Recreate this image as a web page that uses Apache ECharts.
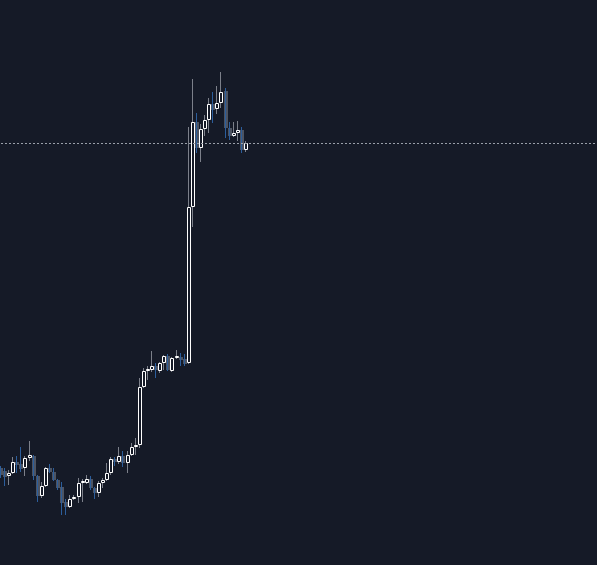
<!DOCTYPE html>
<html>
<head>
<meta charset="utf-8">
<script src="https://cdn.jsdelivr.net/npm/echarts@6/dist/echarts.min.js"></script>
<style>
  html, body { margin: 0; padding: 0; background: #151a27; }
  #chart { width: 597px; height: 565px; }
</style>
</head>
<body>
<div id="chart"></div>
<script>
// prices (arbitrary units, no axis shown)
const openValues = [
  13.2, 12.9, 12.4, 12.7, 13.8, 13.6, 13.2, 14.2, 14.4, 12.4,
  10.4, 11.4, 13.2, 12.8, 12.0, 11.3, 9.8, 9.3, 10.1, 10.3,
  11.7, 11.7, 12.1, 11.2, 10.7, 11.7, 12.0, 12.7, 14.1, 13.8,
  14.4, 13.7, 14.5, 15.3, 15.5, 21.3, 22.9, 23.0, 23.4, 22.9,
  23.7, 24.4, 22.9, 24.2, 24.3, 24.1, 23.7, 39.3, 47.8, 45.2,
  47.1, 48.0, 49.6, 49.1, 49.7, 50.9, 47.2, 46.4, 46.7, 47.0,
  45.0
];
const closeValues = [
  12.5, 12.3, 12.7, 13.8, 13.5, 13.1, 14.2, 14.5, 12.4, 10.4,
  11.4, 13.2, 12.8, 12.0, 11.2, 9.7, 9.3, 10.1, 10.3, 11.7,
  11.9, 12.1, 11.2, 10.7, 11.7, 12.0, 12.7, 14.1, 13.8, 14.4,
  13.7, 14.5, 15.3, 15.5, 21.3, 22.9, 23.1, 23.4, 23.0, 23.7,
  24.4, 23.0, 24.2, 24.4, 24.0, 23.6, 39.3, 47.8, 45.2, 47.1,
  48.0, 49.6, 49.0, 49.7, 50.8, 47.2, 46.4, 46.7, 47.0, 45.0,
  45.7
];
const lowValues = [
  12.2, 11.4, 11.5, 12.6, 12.7, 12.8, 12.4, 13.9, 12.0, 9.8,
  10.2, 11.3, 12.7, 11.9, 11.0, 8.5, 8.5, 9.2, 10.0, 9.7,
  9.8, 11.6, 11.0, 10.1, 10.3, 11.2, 11.9, 12.5, 13.4, 13.6,
  13.3, 12.7, 14.4, 14.5, 15.2, 21.2, 22.0, 22.8, 22.2, 22.7,
  23.0, 22.9, 22.8, 24.1, 23.4, 23.4, 23.6, 37.3, 44.7, 43.8,
  46.4, 46.7, 47.7, 48.6, 49.2, 46.2, 46.0, 46.3, 45.9, 44.7,
  44.8
];
const highValues = [
  13.4, 13.2, 13.0, 14.3, 14.4, 15.3, 14.4, 15.9, 14.5, 12.5,
  11.8, 13.3, 13.6, 13.2, 12.1, 11.8, 10.1, 10.5, 10.5, 12.2,
  12.1, 12.5, 12.4, 11.3, 11.9, 12.2, 13.7, 14.3, 14.3, 15.3,
  14.9, 14.9, 15.7, 16.2, 22.2, 23.2, 23.4, 24.9, 23.7, 23.8,
  24.5, 24.6, 24.3, 25.0, 24.7, 24.6, 47.3, 52.1, 48.7, 47.6,
  48.5, 50.2, 50.8, 51.4, 52.8, 51.2, 47.8, 47.8, 47.9, 47.3,
  45.9
];
// empty slots to the right of the last candle
const categories = Array.from({ length: 147 }, (_, i) => String(i + 1));

const bgColor = "#151a27";
const upBorder = "#ffffff";
const upWick = "#7c808a";
const downBody = "#4d5462";
const downWick = "#2c5e9c";

const candleData = openValues.map((o, i) => [
  i, o, closeValues[i], lowValues[i], highValues[i],
]);
const lastClose = closeValues[closeValues.length - 1];

function renderCandle(params, api) {
  const idx = api.value(0);
  const o = api.value(1);
  const c = api.value(2);
  const pO = api.coord([idx, o]);
  const pC = api.coord([idx, c]);
  const pL = api.coord([idx, api.value(3)]);
  const pH = api.coord([idx, api.value(4)]);
  const cx = Math.round(pO[0]);
  const up = c >= o;
  const top = Math.round(Math.min(pO[1], pC[1]));
  const bottom = Math.round(Math.max(pO[1], pC[1]));
  const wick = {
    type: "line",
    shape: { x1: cx - 0.5, y1: Math.round(pH[1]), x2: cx - 0.5, y2: Math.round(pL[1]) },
    style: { stroke: up ? upWick : downWick, lineWidth: 1 },
  };
  if (up) {
    return {
      type: "group",
      children: [
        wick,
        {
          type: "rect",
          shape: { x: cx - 1.5, y: top + 0.5, width: 3, height: Math.max(bottom - top - 1, 1) },
          style: { fill: bgColor, stroke: upBorder, lineWidth: 1 },
        },
      ],
    };
  }
  return {
    type: "group",
    children: [
      {
        type: "rect",
        shape: { x: cx - 2, y: top, width: 4, height: Math.max(bottom - top, 1) },
        style: { fill: downBody },
      },
      wick,
    ],
  };
}

const chart = echarts.init(document.getElementById("chart"));
chart.setOption({
  backgroundColor: bgColor,
  animation: false,
  grid: { left: 1, right: -1, top: 0, bottom: 0 },
  xAxis: {
    type: "category",
    data: categories,
    boundaryGap: false,
    show: false,
  },
  yAxis: {
    type: "value",
    min: 3.5,
    max: 60,
    show: false,
    splitLine: { show: false },
  },
  series: [
    {
      type: "custom",
      renderItem: renderCandle,
      encode: { x: 0, y: [1, 2, 3, 4] },
      data: candleData,
      silent: true,
    },
    {
      type: "line",
      data: [],
      symbol: "none",
      silent: true,
      markLine: {
        symbol: "none",
        silent: true,
        label: { show: false },
        lineStyle: { color: "#9aa0aa", width: 1, type: [2, 2] },
        data: [{ yAxis: lastClose }],
      },
    },
  ],
});
</script>
</body>
</html>
